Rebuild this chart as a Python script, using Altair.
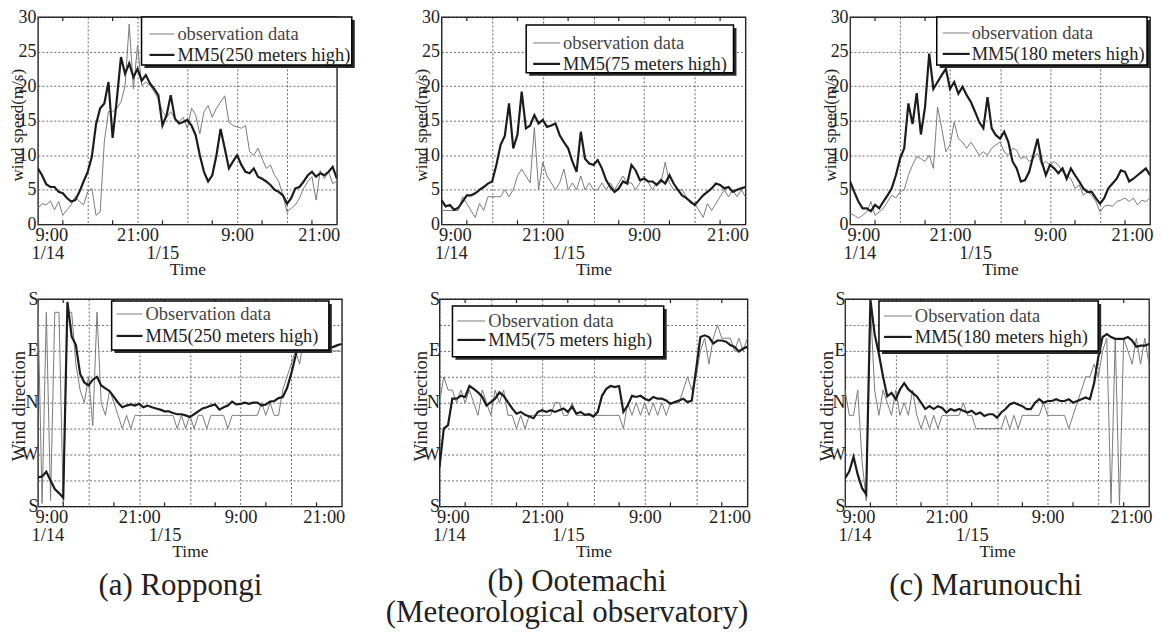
import altair as alt
import pandas as pd

FONT = "Liberation Serif"
OBS_COLOR = "#7a7a7a"
MM5_COLOR = "#1c1c1c"

# time in hours after 9:00 1/14 (half-hour sampling up to 21:00 1/15)
HOURS = [i * 0.5 for i in range(73)]

# ---------------- wind speed (m/s) ----------------
A_SPD_MM5 = [8.1, 7.1, 5.8, 5.4, 5.4, 4.7, 4.5, 3.8, 3.3, 3.5, 4.7, 6.2,
             7.6, 9.8, 14.5, 16.8, 17.5, 20.6, 12.5, 18.0, 24.2, 21.8, 23.3, 21.3,
             22.5, 20.8, 21.6, 20.4, 19.6, 18.7, 14.3, 15.8, 18.7, 15.3, 14.6, 14.8,
             15.1, 14.3, 12.9, 10.0, 7.6, 6.2, 7.1, 10.0, 13.8, 11.0, 8.1, 9.1,
             10.0, 8.6, 7.6, 7.4, 8.1, 6.9, 6.6, 6.2, 5.7, 5.0, 4.7, 4.2,
             3.0, 3.8, 5.2, 5.4, 6.2, 7.1, 7.6, 6.9, 7.4, 7.1, 7.6, 8.3,
             6.6]
A_SPD_OBS = [2.3, 3.0, 2.8, 3.4, 2.1, 3.3, 1.3, 2.1, 2.8, 4.0, 3.3, 2.8,
             4.7, 5.2, 1.3, 1.8, 12.0, 16.3, 16.3, 16.8, 17.7, 20.1, 29.0, 19.6,
             25.9, 20.1, 20.6, 20.1, 19.2, 18.2, 16.3, 15.5, 16.3, 15.3, 14.8, 15.5,
             13.9, 16.8, 15.8, 13.1, 16.3, 17.2, 15.5, 16.8, 17.7, 18.6, 14.8, 14.3,
             14.1, 13.9, 14.3, 10.5, 10.0, 11.0, 9.5, 8.1, 8.6, 7.1, 6.2, 4.2,
             1.8, 2.3, 2.8, 3.8, 5.2, 6.2, 6.9, 3.5, 7.8, 6.6, 7.6, 5.9,
             6.2]
B_SPD_MM5 = [3.5, 2.6, 2.8, 2.1, 2.4, 3.3, 4.2, 4.2, 4.5, 5.0, 5.4, 5.9,
             6.2, 8.6, 11.5, 12.8, 17.5, 11.0, 13.0, 19.2, 13.9, 14.3, 15.8, 14.6,
             15.1, 14.1, 14.3, 14.6, 12.9, 11.9, 11.0, 9.1, 7.6, 13.4, 9.5, 8.8,
             8.6, 9.3, 8.1, 6.4, 5.4, 4.7, 5.2, 6.2, 5.9, 8.6, 7.8, 6.4,
             6.6, 6.2, 6.2, 5.7, 6.4, 5.9, 7.1, 5.9, 5.0, 4.2, 3.8, 3.3,
             2.8, 3.5, 4.2, 4.7, 5.2, 5.9, 5.7, 5.2, 5.4, 4.7, 5.0, 5.2,
             5.4]
B_SPD_OBS = [2, 2, 2, 2, 2, 4, 3, 2, 1, 3, 2, 4,
             4, 4, 4, 5, 4, 5, 7, 8, 7, 6, 14, 5,
             9, 7, 6, 5, 6, 8, 5, 6, 5, 7, 5, 6,
             5, 5, 6, 5, 6, 5, 6, 7, 6, 6, 5, 6,
             7, 6, 5, 6, 6, 9, 6, 5, 5, 5, 4, 3,
             3, 2, 1, 3, 2, 3, 4, 5, 4, 5, 4, 5,
             4]
C_SPD_MM5 = [6.2, 4.7, 3.3, 2.3, 2.3, 1.9, 2.8, 2.3, 3.3, 4.2, 5.2, 7.1,
             9.5, 11.0, 17.5, 14.5, 19.0, 13.0, 17.0, 24.7, 19.6, 20.6, 21.6, 22.5,
             19.6, 20.6, 18.9, 19.9, 18.7, 17.7, 16.3, 14.8, 13.9, 18.4, 13.9, 12.9,
             12.4, 13.4, 11.9, 9.1, 8.1, 6.2, 6.4, 7.6, 10.0, 12.4, 9.1, 7.1,
             8.6, 8.1, 7.4, 8.1, 6.6, 8.1, 7.1, 6.2, 5.2, 4.7, 4.7, 3.8,
             3.0, 3.8, 5.2, 5.9, 6.6, 7.8, 7.6, 6.2, 6.6, 7.1, 7.6, 8.1,
             7.1]
C_SPD_OBS = [1.6, 1.3, 0.9, 1.3, 1.8, 3.3, 1.3, 1.8, 2.3, 3.3, 4.2, 3.8,
             4.7, 5.0, 7.1, 8.6, 9.8, 9.5, 9.1, 10.0, 8.1, 17.0, 13.9, 10.5,
             11.5, 14.8, 12.4, 11.9, 11.0, 11.9, 11.0, 10.0, 10.5, 10.0, 11.0, 11.5,
             11.9, 10.5, 10.0, 11.0, 10.7, 9.5, 9.8, 9.1, 9.5, 10.3, 8.6, 9.1,
             8.6, 9.1, 8.6, 7.6, 7.1, 6.6, 5.2, 5.7, 4.2, 4.7, 4.2, 3.3,
             1.8, 2.6, 2.8, 2.6, 3.3, 3.5, 3.8, 3.3, 3.8, 2.8, 3.5, 3.3,
             3.8]

# ---------------- wind direction (deg, N=0, E=90, S=+-180, W=-90) ----------------
A_DIR_MM5 = [-130, -128, -120, -135, -150, -157, -165, 175, 115, 100, 50, 35,
             30, 40, 45, 30, 25, 20, 10, 0, -8, -5, -3, -5,
             -2, -8, -5, -8, -10, -12, -15, -15, -18, -20, -20, -22,
             -25, -20, -15, -10, -8, -5, -3, -12, -8, -5, 2, -3,
             -2, 0, -2, 0, 0, -5, -3, 2, 3, 8, 10, 25,
             50, 80, 110, 140, 120, 115, 110, 105, 100, 95, 97, 100,
             102]
A_DIR_OBS = [170, -175, 157, -170, 157, 157, -175, 157, 157, 67, 22, 0,
             45, -40, 157, 0, -22, 22, 0, -22, -45, -22, -45, -22,
             -22, -22, -22, -22, -22, -22, -22, -22, -22, -45, -22, -45,
             -22, -45, -22, -22, -45, -22, -22, -22, -22, -45, -22, -22,
             -22, -22, -22, -22, -22, 0, -22, 0, -22, -22, 22, 45,
             67, 90, 67, 112, 112, 112, 112, 112, 112, 90, 90, 90,
             90]
B_DIR_MM5 = [-112, -45, -39, 7, 7, 12, 10, 29, 24, 18, 10, -5,
             1, 7, 18, 12, 1, -10, -19, -16, -21, -24, -27, -16,
             -13, -16, -13, -16, -13, -10, -16, -7, -19, -16, -21, -20,
             -24, -16, 12, 24, 29, 27, 29, -16, -5, 12, 10, 12,
             7, 4, 10, 7, 7, 4, -2, 1, 4, 7, 1, 4,
             58, 114, 117, 114, 103, 108, 108, 106, 100, 97, 89, 94,
             97]
B_DIR_OBS = [0, 45, 22, 22, 0, 22, 0, 22, 0, -22, 22, 0,
             -22, 22, 0, 22, -22, -22, -45, -22, -45, -22, -22, -22,
             -22, -22, -22, 0, 0, -22, -22, 0, -22, -22, -22, -22,
             -22, -22, -22, -22, -22, -22, -22, -45, 0, -22, 0, -22,
             0, -22, 0, -22, 0, -22, 0, 0, 0, 22, 45, 22,
             45, 90, 112, 67, 112, 135, 112, 112, 112, 90, 112, 90,
             112]
C_DIR_MM5 = [-131, -119, -94, -125, -148, -159, 179, 119, 85, 45, 11, 17,
             6, 23, 34, 23, 17, 11, 0, -11, -6, -11, -6, -9,
             -17, -11, -14, -11, -14, -17, -14, -20, -17, -23, -20, -20,
             -26, -17, -11, -3, 0, -3, -6, -11, -11, 0, 6, 0,
             3, 3, 6, 3, 3, 6, 0, 3, 6, 9, 6, 34,
             80, 114, 119, 114, 111, 111, 111, 114, 108, 97, 99, 99,
             102]
C_DIR_OBS = [22, -22, -22, 22, -100, -170, 170, 22, -22, 22, 0, -22,
             22, -22, 0, -22, 22, -22, -45, -22, -45, -22, -45, -22,
             -22, -22, -22, -22, 0, -22, -22, -45, -45, -45, -45, -45,
             -45, -45, -22, -45, -22, -45, -22, -22, -22, -22, -22, 0,
             -22, -22, -22, -22, -22, -45, -22, 0, 22, 45, 45, 67,
             45, 90, 112, -175, 112, -178, 112, 90, 67, 112, 67, 112,
             67]

SPD_TICKS = [0, 5, 10, 15, 20, 25, 30]
DIR_TICKS = [-180, -135, -90, -45, 0, 45, 90, 135, 180]
TIME_TICKS = [0, 6, 12, 18, 24, 30, 36]
MINOR_TIME_TICKS = [3, 9, 15, 21, 27, 33]
DATE_TICKS = [0, 15]


def frame(values):
    return pd.DataFrame({"h": HOURS, "v": values})


def panel(kind, mm5, obs, legend_texts, geo, width, height, captions=()):
    if kind == "spd":
        ydom = [0, 30]
        yaxis = alt.Axis(values=SPD_TICKS, title="wind speed(m/s)", grid=True,
                         labelFontSize=18, labelPadding=2,
                         titleX=-20, titleY=108, titleFontSize=17)
    else:
        ydom = [-180, 180]
        yaxis = alt.Axis(values=DIR_TICKS, title="Wind direction", grid=True,
                         labelExpr="abs(datum.value) == 180 ? 'S' : datum.value == 90 ? 'E' : datum.value == 0 ? 'N' : datum.value == -90 ? 'W' : ''",
                         labelFontSize=18, labelPadding=0,
                         titleX=-19, titleY=107, titleFontSize=18.5)
    xscale = alt.Scale(domain=[0, 36], nice=False, zero=False)
    yscale = alt.Scale(domain=ydom, nice=False, zero=False)
    xaxis = alt.Axis(values=TIME_TICKS, grid=True, title=None,
                     labelExpr="datum.value % 24 == 0 ? '9:00' : datum.value % 24 == 12 ? '21:00' : ''",
                     labelFontSize=18.5, labelPadding=1, labelFlush=True, labelFlushOffset=3)
    date_axis = alt.Axis(values=DATE_TICKS, orient="bottom", grid=False, domain=False, ticks=False,
                         labelExpr="datum.value == 0 ? '1/14' : '1/15'",
                         labelFontSize=18.5, labelPadding=19, labelFlush=True, labelFlushOffset=7,
                         title="Time", titleFontSize=17.5, titlePadding=8)

    obs_layer = alt.Chart(frame(obs)).mark_line(clip=True, color=OBS_COLOR, strokeWidth=1.0).encode(
        x=alt.X("h:Q", scale=xscale, axis=xaxis),
        y=alt.Y("v:Q", scale=yscale, axis=yaxis),
    )
    mm5_layer = alt.Chart(frame(mm5)).mark_line(clip=True, color=MM5_COLOR, strokeWidth=2.2).encode(
        x=alt.X("h:Q", scale=xscale, axis=date_axis),
        y=alt.Y("v:Q", scale=yscale, axis=yaxis),
    )

    minor = pd.DataFrame({"h": MINOR_TIME_TICKS})
    tick_bot = alt.Chart(minor).mark_rule(color="#222", strokeWidth=1.2).encode(
        x=alt.X("h:Q", scale=xscale, axis=None),
        y=alt.Y(datum=ydom[0], scale=yscale, axis=yaxis),
        y2=alt.value(height - 4))
    tick_top = alt.Chart(minor).mark_rule(color="#222", strokeWidth=1.2).encode(
        x=alt.X("h:Q", scale=xscale, axis=None),
        y=alt.Y(datum=ydom[1], scale=yscale, axis=yaxis),
        y2=alt.value(4))

    bx0, by0, bx1, by1, lx0, lx1, tx, r1, r2 = geo
    one = alt.Data(values=[{"k": 1}])
    shadow = alt.Chart(one).mark_rect(color="#2a2a2a").encode(
        x=alt.value(bx0 + 3), x2=alt.value(bx1 + 3), y=alt.value(by0 + 3), y2=alt.value(by1 + 3))
    box = alt.Chart(one).mark_rect(fill="white", stroke="black", strokeWidth=1.5).encode(
        x=alt.value(bx0), x2=alt.value(bx1), y=alt.value(by0), y2=alt.value(by1))
    s1 = alt.Chart(one).mark_rule(color=OBS_COLOR, strokeWidth=1.0).encode(
        x=alt.value(lx0), x2=alt.value(lx1), y=alt.value(r1))
    s2 = alt.Chart(one).mark_rule(color=MM5_COLOR, strokeWidth=2.2).encode(
        x=alt.value(lx0), x2=alt.value(lx1), y=alt.value(r2))
    t1 = alt.Chart(one).mark_text(align="left", baseline="middle", font=FONT, fontSize=18.5, color="#444").encode(
        x=alt.value(tx), y=alt.value(r1), text=alt.value(legend_texts[0]))
    t2 = alt.Chart(one).mark_text(align="left", baseline="middle", font=FONT, fontSize=18.5, color="#222").encode(
        x=alt.value(tx), y=alt.value(r2), text=alt.value(legend_texts[1]))

    layers = [obs_layer, mm5_layer, tick_bot, tick_top, shadow, box, s1, s2, t1, t2]
    for (cx, cy, txt) in captions:
        layers.append(alt.Chart(one).mark_text(align="center", baseline="middle", font=FONT,
                                               fontSize=31, color="#222").encode(
            x=alt.value(cx), y=alt.value(height + cy), text=alt.value(txt)))
    return alt.layer(*layers).resolve_axis(x="independent").properties(width=width, height=height)


H = 208
pa = panel("spd", A_SPD_MM5, A_SPD_OBS, ["observation data", "MM5(250 meters high)"],
           (104, 0, 315, 48, 112, 137, 140, 17, 38), 300, H)
pb = panel("spd", B_SPD_MM5, B_SPD_OBS, ["observation data", "MM5(75 meters high)"],
           (85, 8, 293, 56, 92, 119, 122, 26, 47), 305, H)
pc = panel("spd", C_SPD_MM5, C_SPD_OBS, ["observation data", "MM5(180 meters high)"],
           (87, 0, 298, 48, 93, 120, 122, 16, 37), 301, H)

qa = panel("dir", A_DIR_MM5, A_DIR_OBS, ["Observation data", "MM5(250 meters high)"],
           (74, 2, 292, 51, 79, 105, 108, 15, 37), 305, H,
           captions=[(143, 80, "(a) Roppongi")])
qb = panel("dir", B_DIR_MM5, B_DIR_OBS, ["Observation data", "MM5(75 meters high)"],
           (13, 7, 225, 58, 18, 46, 49, 22, 41), 309, H,
           captions=[(138, 76, "(b) Ootemachi"), (128, 107, "(Meteorological observatory)")])
qc = panel("dir", C_DIR_MM5, C_DIR_OBS, ["Observation data", "MM5(180 meters high)"],
           (34, 2, 254, 52, 39, 67, 70, 17, 38), 305, H,
           captions=[(141, 80, "(c) Marunouchi")])

top = alt.hconcat(pa, pb, pc, spacing=105, bounds="flush")
bottom = alt.hconcat(qa, qb, qc, spacing=98, bounds="flush")

chart = alt.vconcat(top, bottom, spacing=10).properties(
    padding={"left": 0, "top": -2, "right": 0, "bottom": 0}
).configure(
    font=FONT,
    background="white",
).configure_view(
    stroke="#1a1a1a", strokeWidth=1.3
).configure_axis(
    labelFont=FONT, titleFont=FONT, labelColor="#222", titleColor="#222",
    titleFontWeight="normal", domain=False, ticks=False,
    gridColor="#444", gridDash=[2, 2], gridWidth=0.8, gridOpacity=1,
    titleAngle=270, titleBaseline="middle", titleAlign="center",
).configure_axisX(
    titleAngle=0,
)

chart.save("out.html", embed_options={"renderer": "svg", "actions": False})
